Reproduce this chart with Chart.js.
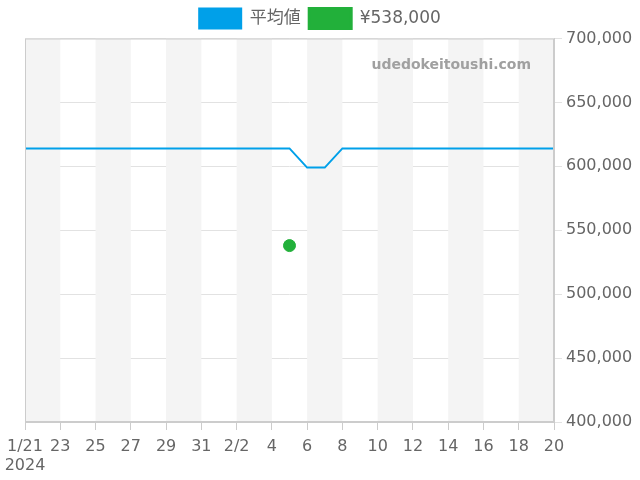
<!DOCTYPE html>
<html>
<head>
<meta charset="utf-8">
<script src="https://cdn.jsdelivr.net/npm/chart.js@4"></script>
<style>
  html, body { margin: 0; padding: 0; background: #fff; }
  #wrap { width: 640px; height: 480px; }
</style>
</head>
<body>
<div id="wrap"><canvas id="priceChart"></canvas></div>
<script>
// Days from 2024-01-21 to 2024-02-20
const dayLabels = ['1/21', '22', '23', '24', '25', '26', '27', '28', '29', '30', '31',
  '2/1', '2/2', '3', '4', '5', '6', '7', '8', '9', '10', '11', '12', '13', '14',
  '15', '16', '17', '18', '19', '20'];
const avgPrice = [614000, 614000, 614000, 614000, 614000, 614000, 614000, 614000,
  614000, 614000, 614000, 614000, 614000, 614000, 614000, 614000, 599000, 599000,
  614000, 614000, 614000, 614000, 614000, 614000, 614000, 614000, 614000, 614000,
  614000, 614000, 614000];
const dealDay = 15;      // 2/5
const dealPrice = 538000;
const seriesNames = ['平均値', '¥538,000'];

const FONT = '"DejaVu Sans", "Noto Sans CJK JP", sans-serif';

// alternating grey bands every 2 days + watermark + frame
const bandsPlugin = {
  id: 'bands',
  beforeDatasetsDraw(chart) {
    const { ctx, chartArea: a, scales: { x } } = chart;
    ctx.save();
    ctx.fillStyle = '#f4f4f4';
    for (let d = 0; d < dayLabels.length - 1; d += 4) {
      const x0 = x.getPixelForValue(d);
      const x1 = x.getPixelForValue(Math.min(d + 2, dayLabels.length - 1));
      ctx.fillRect(x0, a.top, x1 - x0, a.bottom - a.top);
    }
    ctx.restore();
  },
  afterDatasetsDraw(chart) {
    const { ctx, chartArea: a } = chart;
    ctx.save();
    ctx.font = 'bold 14px ' + FONT;
    ctx.fillStyle = '#a0a0a0';
    ctx.textAlign = 'right';
    ctx.textBaseline = 'middle';
    ctx.fillText('udedokeitoushi.com', a.right - 23, a.top + 27);
    ctx.strokeStyle = '#cccccc';
    ctx.lineWidth = 1;
    ctx.strokeRect(a.left + 0.5, a.top + 0.5, a.right - a.left - 1, a.bottom - a.top - 1);
    ctx.restore();
  }
};

new Chart(document.getElementById('priceChart'), {
  type: 'line',
  data: {
    datasets: [{
      label: seriesNames[0],
      data: avgPrice.map((v, i) => ({ x: i, y: v })),
      borderColor: '#00a0e9',
      backgroundColor: '#00a0e9',
      borderWidth: 2,
      pointRadius: 0,
      tension: 0
    }, {
      label: seriesNames[1],
      data: [{ x: dealDay, y: dealPrice }],
      borderColor: '#22b03a',
      backgroundColor: '#22b03a',
      showLine: false,
      pointRadius: 6,
      pointHoverRadius: 6
    }]
  },
  options: {
    responsive: true,
    maintainAspectRatio: false,
    animation: false,
    layout: { padding: 0 },
    plugins: {
      legend: {
        position: 'top',
        labels: {
          boxWidth: 42,
          boxHeight: 20,
          padding: 8.5,
          color: '#666',
          font: { size: 17, family: FONT }
        }
      },
      tooltip: { enabled: false }
    },
    scales: {
      x: {
        type: 'linear',
        min: 0,
        max: dayLabels.length - 1,
        afterFit: (s) => { s.height = 58; s.paddingLeft = 25; s.paddingRight = 0; },
        ticks: {
          stepSize: 2,
          autoSkip: false,
          maxRotation: 0,
          color: '#666',
          padding: 7,
          font: { size: 16, family: FONT },
          callback: (v) => v === 0 ? [dayLabels[0], '2024'] : dayLabels[v]
        },
        grid: { drawOnChartArea: false, tickLength: 8, color: '#cccccc' },
        border: { color: '#cccccc' }
      },
      y: {
        position: 'right',
        min: 400000,
        max: 700000,
        afterFit: (s) => { s.width = 86; s.paddingTop = 0; s.paddingBottom = 0; },
        ticks: {
          stepSize: 50000,
          color: '#666',
          padding: 4,
          font: { size: 16, family: FONT },
          callback: (v) => v.toLocaleString('en-US')
        },
        grid: { color: '#e2e2e2', tickLength: 8 },
        border: { color: '#cccccc' }
      }
    }
  },
  plugins: [bandsPlugin]
});
</script>
</body>
</html>
